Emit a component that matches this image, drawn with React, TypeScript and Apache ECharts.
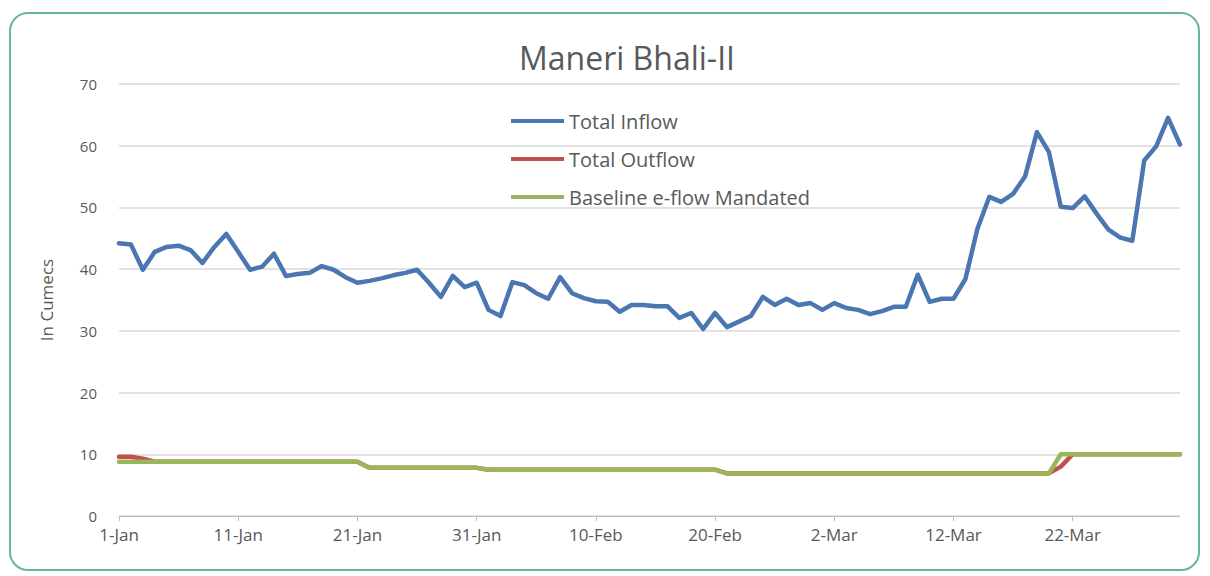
import React, { useEffect, useRef } from "react";
import * as echarts from "echarts";

const TITLE = "Maneri Bhali-II";
const Y_NAME = "In Cumecs";
const MONTHS = ["Jan", "Feb", "Mar"];
const MONTH_DAYS = [31, 28, 31];

const categories: string[] = [];
MONTHS.forEach((m, i) => {
  for (let d = 1; d <= MONTH_DAYS[i]; d++) categories.push(`${d}-${m}`);
});

const totalInflow = [
  44.2, 44.0, 39.9, 42.8, 43.6, 43.8, 43.1, 41.0, 43.6, 45.7,
  42.8, 39.9, 40.4, 42.5, 38.9, 39.2, 39.4, 40.5, 39.9, 38.7,
  37.8, 38.1, 38.5, 39.0, 39.4, 39.9, 37.8, 35.5, 38.9, 37.1,
  37.8, 33.4, 32.4, 37.9, 37.4, 36.1, 35.2, 38.7, 36.1, 35.3,
  34.8, 34.7, 33.1, 34.2, 34.2, 34.0, 34.0, 32.1, 32.9, 30.3,
  32.9, 30.6, 31.5, 32.4, 35.5, 34.2, 35.2, 34.2, 34.5, 33.4,
  34.5, 33.7, 33.4, 32.7, 33.2, 33.9, 33.9, 39.1, 34.7, 35.2,
  35.2, 38.4, 46.5, 51.7, 50.9, 52.2, 55.0, 62.2, 59.0, 50.1,
  49.9, 51.8, 49.0, 46.4, 45.1, 44.6, 57.6, 59.9, 64.5, 60.2,
];

const totalOutflow = [
  9.6, 9.6, 9.3, 8.8, 8.8, 8.8, 8.8, 8.8, 8.8, 8.8,
  8.8, 8.8, 8.8, 8.8, 8.8, 8.8, 8.8, 8.8, 8.8, 8.8,
  8.8, 7.8, 7.8, 7.8, 7.8, 7.8, 7.8, 7.8, 7.8, 7.8,
  7.8, 7.5, 7.5, 7.5, 7.5, 7.5, 7.5, 7.5, 7.5, 7.5,
  7.5, 7.5, 7.5, 7.5, 7.5, 7.5, 7.5, 7.5, 7.5, 7.5,
  7.5, 6.9, 6.9, 6.9, 6.9, 6.9, 6.9, 6.9, 6.9, 6.9,
  6.9, 6.9, 6.9, 6.9, 6.9, 6.9, 6.9, 6.9, 6.9, 6.9,
  6.9, 6.9, 6.9, 6.9, 6.9, 6.9, 6.9, 6.9, 6.9, 8.0,
  10.0, 10.0, 10.0, 10.0, 10.0, 10.0, 10.0, 10.0, 10.0, 10.0,
];

const baselineEflow = [
  8.8, 8.8, 8.8, 8.8, 8.8, 8.8, 8.8, 8.8, 8.8, 8.8,
  8.8, 8.8, 8.8, 8.8, 8.8, 8.8, 8.8, 8.8, 8.8, 8.8,
  8.8, 7.8, 7.8, 7.8, 7.8, 7.8, 7.8, 7.8, 7.8, 7.8,
  7.8, 7.5, 7.5, 7.5, 7.5, 7.5, 7.5, 7.5, 7.5, 7.5,
  7.5, 7.5, 7.5, 7.5, 7.5, 7.5, 7.5, 7.5, 7.5, 7.5,
  7.5, 6.9, 6.9, 6.9, 6.9, 6.9, 6.9, 6.9, 6.9, 6.9,
  6.9, 6.9, 6.9, 6.9, 6.9, 6.9, 6.9, 6.9, 6.9, 6.9,
  6.9, 6.9, 6.9, 6.9, 6.9, 6.9, 6.9, 6.9, 6.9, 10.0,
  10.0, 10.0, 10.0, 10.0, 10.0, 10.0, 10.0, 10.0, 10.0, 10.0,
];

const FONT = "Open Sans";
const TEXT = "#595959";

export default function App() {
  const ref = useRef<HTMLDivElement>(null);
  useEffect(() => {
    if (!ref.current) return;
    const chart = echarts.init(ref.current, null, { renderer: "svg" });
    const lineSeries = (name: string, data: number[], color: string, z: number) => ({
      name,
      type: "line",
      data,
      symbol: "none",
      smooth: false,
      z,
      lineStyle: { color, width: 4.5, cap: "round", join: "round" },
      itemStyle: { color },
    });
    chart.setOption({
      animation: false,
      backgroundColor: "#ffffff",
      textStyle: { fontFamily: FONT },
      legend: {
        orient: "vertical",
        left: 506,
        top: 106,
        icon: "rect",
        itemWidth: 53,
        itemHeight: 4,
        itemGap: 18,
        itemTextGap: 6,
        textStyle: { fontFamily: FONT, fontSize: 20, color: TEXT },
        data: ["Total Inflow", "Total Outflow", "Baseline e-flow Mandated"],
      },
      grid: { left: 119, right: 30, top: 84, bottom: 60, containLabel: false },
      xAxis: {
        type: "category",
        data: categories,
        boundaryGap: false,
        axisLine: { lineStyle: { color: "#bfbfbf", width: 1 } },
        axisTick: { show: true, interval: 9, length: 5, lineStyle: { color: "#bfbfbf" } },
        axisLabel: {
          interval: 9,
          margin: 10,
          fontFamily: FONT,
          fontSize: 17,
          color: TEXT,
        },
        splitLine: { show: false },
      },
      yAxis: {
        type: "value",
        min: 0,
        max: 70,
        interval: 10,
        name: Y_NAME,
        nameLocation: "middle",
        nameGap: 64,
        nameTextStyle: { fontFamily: FONT, fontSize: 17, color: TEXT },
        axisLine: { show: false },
        axisTick: { show: false },
        axisLabel: { margin: 22, fontFamily: FONT, fontSize: 15, color: TEXT },
        splitLine: { lineStyle: { color: "#d9d9d9", width: 1.5 } },
      },
      graphic: [
        {
          type: "text",
          x: 627,
          y: 57,
          silent: true,
          style: {
            text: TITLE,
            textAlign: "center",
            textVerticalAlign: "middle",
            fontFamily: FONT,
            fontSize: 32,
            fill: TEXT,
          },
        },
        {
          type: "rect",
          shape: { x: 10, y: 13, width: 1189, height: 557, r: 18 },
          style: { fill: "none", stroke: "#63b79b", lineWidth: 2 },
          silent: true,
          z: 100,
        },
      ],
      series: [
        lineSeries("Total Inflow", totalInflow, "#4a76b2", 3),
        lineSeries("Total Outflow", totalOutflow, "#c0504d", 2),
        lineSeries("Baseline e-flow Mandated", baselineEflow, "#9bb55a", 4),
      ],
    });
    return () => chart.dispose();
  }, []);
  return (
    <div
      ref={ref}
      style={{ position: "absolute", left: 0, top: 0, width: 1210, height: 576 }}
    />
  );
}
